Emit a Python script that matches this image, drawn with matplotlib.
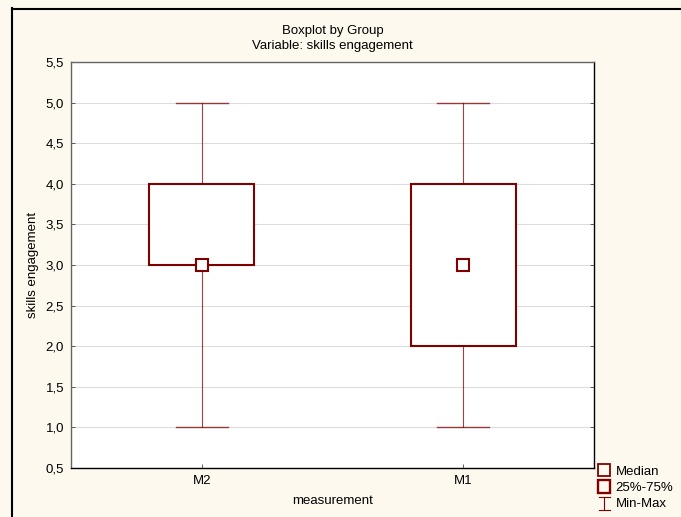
import matplotlib
matplotlib.use("Agg")
import matplotlib.pyplot as plt
from matplotlib.lines import Line2D
from matplotlib.patches import Rectangle
from matplotlib.legend_handler import HandlerBase

plt.rcParams['font.family'] = ['Liberation Sans', 'DejaVu Sans']

groups = ["M2", "M1"]
medians = [3.0, 3.0]
q1 = [3.0, 2.0]
q3 = [4.0, 4.0]
mins = [1.0, 1.0]
maxs = [5.0, 5.0]
yticks = [0.5, 1.0, 1.5, 2.0, 2.5, 3.0, 3.5, 4.0, 4.5, 5.0, 5.5]

red = "#800000"
bg = "#fef9ee"
fs = 9.5


class SquareHandler(HandlerBase):
    def __init__(self, lw):
        super().__init__()
        self.lw = lw

    def create_artists(self, legend, orig, xd, yd, w, h, fontsize, trans):
        s = 9
        r = Rectangle((w/2 - s/2, h/2 - s/2), s, s, fill=False, ec=red, lw=self.lw,
                      transform=trans)
        return [r]


class MinMaxHandler(HandlerBase):
    def create_artists(self, legend, orig, xd, yd, w, h, fontsize, trans):
        cx = w/2
        y0, y1 = h/2 - 5, h/2 + 4
        return [Line2D([cx, cx], [y0, y1], color=red, lw=0.8, transform=trans),
                Line2D([cx - 4, cx + 4], [y0, y0], color=red, lw=0.8, transform=trans),
                Line2D([cx - 4, cx + 4], [y1, y1], color=red, lw=0.8, transform=trans)]


fig = plt.figure(figsize=(6.81, 5.17), dpi=100, facecolor=bg)
ax = fig.add_axes([71/681, 1 - 468/517, 523/681, 406/517])
ax.set_facecolor("white")

pos = [1, 2]
box_w = 0.40
cap_w = 0.20
for p, lo, hi, a, b, m in zip(pos, mins, maxs, q1, q3, medians):
    ax.plot([p, p], [lo, a], color=red, lw=0.8, alpha=0.75, zorder=3)
    ax.plot([p, p], [b, hi], color=red, lw=0.8, alpha=0.75, zorder=3)
    ax.plot([p - cap_w/2, p + cap_w/2], [lo, lo], color=red, lw=1.0, alpha=0.75, zorder=3)
    ax.plot([p - cap_w/2, p + cap_w/2], [hi, hi], color=red, lw=1.0, alpha=0.75, zorder=3)
    ax.add_patch(Rectangle((p - box_w/2, a), box_w, b - a, fill=True, facecolor="white",
                           edgecolor=red, lw=1.5, zorder=4))
    ax.plot([p], [m], marker="s", ms=8.5, mfc="white", mec=red, mew=1.5, zorder=5)

ax.set_xlim(0.5, 2.5)
ax.set_ylim(0.5, 5.5)
ax.set_xticks(pos)
ax.set_xticklabels(groups, fontsize=fs)
ax.set_yticks(yticks)
ax.set_yticklabels([f"{v:.1f}".replace(".", ",") for v in yticks], fontsize=fs)
ax.tick_params(axis="both", direction="in", length=3, width=0.6, color="#444444", pad=5)
ax.tick_params(axis="y", right=True)
ax.grid(axis="y", color="#dddddd", lw=0.8, zorder=0)
ax.set_axisbelow(True)
for s in ax.spines.values():
    s.set_linewidth(1.0)
    s.set_color("black")
ax.spines["left"].set_color("#666666")
ax.spines["top"].set_color("#666666")

ax.set_xlabel("measurement", fontsize=fs, labelpad=6)
ax.set_ylabel("skills engagement", fontsize=fs, labelpad=5)
ax.set_title("Boxplot by Group\nVariable: skills engagement", fontsize=fs, pad=9, linespacing=1.4)

h_med = Rectangle((0, 0), 1, 1)
h_box = Rectangle((0, 0), 1, 1)
h_mm = Line2D([], [])
fig.legend([h_med, h_box, h_mm], ["Median", "25%-75%", "Min-Max"], loc="upper left",
           bbox_to_anchor=(591/681, 1 - 459/517), frameon=False, fontsize=fs,
           handlelength=1.0, handletextpad=0.35, labelspacing=0.3, borderpad=0,
           handler_map={h_med: SquareHandler(1.3), h_box: SquareHandler(1.7),
                        h_mm: MinMaxHandler()})

fig.add_artist(Line2D([11.5/681, 11.5/681], [0, 1 - 8/517], color="black", lw=1.5))
fig.add_artist(Line2D([11.5/681, 1], [1 - 8.5/517, 1 - 8.5/517], color="black", lw=1.5))

fig.savefig("out.png", dpi=100, facecolor=bg)
